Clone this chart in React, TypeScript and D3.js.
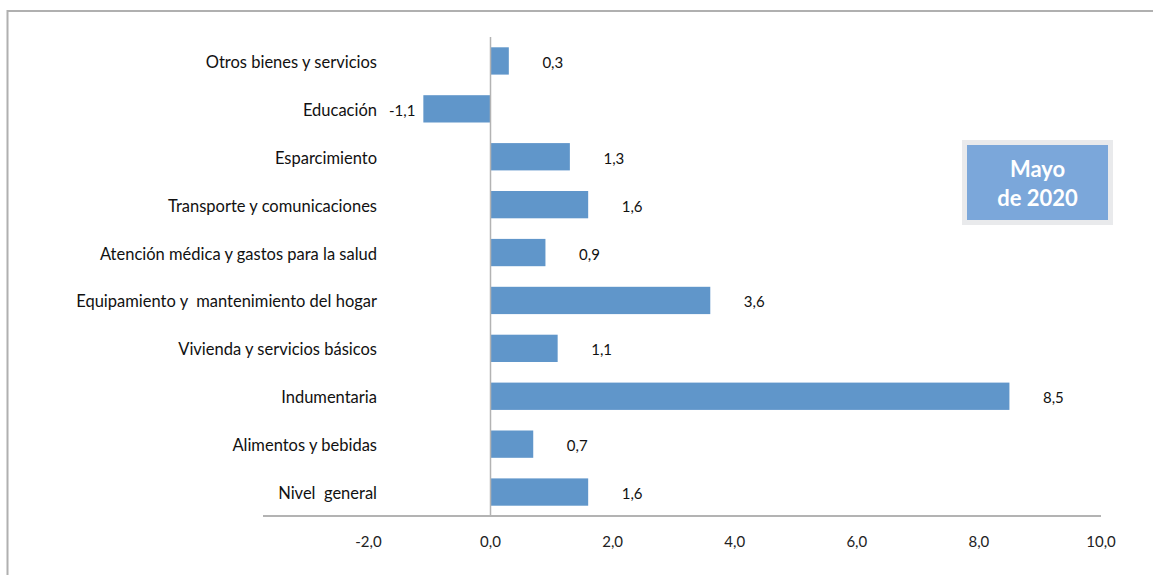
import * as d3 from 'd3'
import { useEffect, useRef } from 'react'

const WIDTH = 1153
const HEIGHT = 575

const categories = [
  'Otros bienes y servicios',
  'Educación',
  'Esparcimiento',
  'Transporte y comunicaciones',
  'Atención médica y gastos para la salud',
  'Equipamiento y  mantenimiento del hogar',
  'Vivienda y servicios básicos',
  'Indumentaria',
  'Alimentos y bebidas',
  'Nivel  general',
]
const values = [0.3, -1.1, 1.3, 1.6, 0.9, 3.6, 1.1, 8.5, 0.7, 1.6]
const xTicks = [-2, 0, 2, 4, 6, 8, 10]
const legendLines = ['Mayo', 'de 2020']

const BAR_COLOR = '#6096ca'
const AXIS_COLOR = '#b3b3b3'
const FONT = 'Lato, "Open Sans", sans-serif'

const fmt = (v: number) => v.toFixed(1).replace('.', ',')

export default function App() {
  const svgRef = useRef<SVGSVGElement>(null)

  useEffect(() => {
    if (!svgRef.current) return
    const svg = d3.select(svgRef.current)
    svg.selectAll('*').remove()

    const plotTop = 37
    const plotBottom = 516
    const axisLeft = 263
    const axisRight = 1101

    const x = d3.scaleLinear().domain([0, 10]).range([490.5, axisRight])
    const y = d3.scaleBand<string>()
      .domain(categories)
      .range([plotTop, plotBottom])
      .paddingInner(0.43)
      .paddingOuter(0.215)

    // frame
    svg.append('rect')
      .attr('x', 7.5).attr('y', 11)
      .attr('width', WIDTH + 20).attr('height', HEIGHT + 20)
      .attr('fill', 'white')
      .attr('stroke', '#b0b0b0')
      .attr('stroke-width', 2)

    // bars
    const rows = categories.map((c, i) => ({ c, v: values[i] }))
    svg.append('g').selectAll('rect')
      .data(rows)
      .enter()
      .append('rect')
      .attr('x', d => x(Math.min(0, d.v)))
      .attr('y', d => y(d.c)!)
      .attr('width', d => Math.abs(x(d.v) - x(0)))
      .attr('height', y.bandwidth())
      .attr('fill', BAR_COLOR)

    // zero line
    svg.append('line')
      .attr('x1', x(0)).attr('x2', x(0))
      .attr('y1', plotTop).attr('y2', plotBottom)
      .attr('stroke', AXIS_COLOR).attr('stroke-width', 1.5)

    // x axis line
    svg.append('line')
      .attr('x1', axisLeft).attr('x2', axisRight)
      .attr('y1', plotBottom).attr('y2', plotBottom)
      .attr('stroke', AXIS_COLOR).attr('stroke-width', 2)

    // tick labels
    svg.append('g').selectAll('text')
      .data(xTicks)
      .enter()
      .append('text')
      .attr('x', d => x(d))
      .attr('y', 541)
      .attr('text-anchor', 'middle')
      .attr('dominant-baseline', 'central')
      .attr('font-family', FONT)
      .attr('font-size', 15)
      .attr('fill', '#222')
      .text(d => fmt(d))

    // category labels
    svg.append('g').selectAll('text')
      .data(categories)
      .enter()
      .append('text')
      .attr('x', 377)
      .attr('y', d => y(d)! + y.bandwidth() / 2 + 1)
      .attr('text-anchor', 'end')
      .attr('dominant-baseline', 'central')
      .attr('font-family', FONT)
      .attr('font-size', 16.5)
      .attr('fill', '#111')
      .style('white-space', 'pre')
      .text(d => d)

    // value labels
    svg.append('g').selectAll('text')
      .data(rows)
      .enter()
      .append('text')
      .attr('x', d => d.v < 0 ? x(d.v) - 8 : x(d.v) + 44)
      .attr('y', d => y(d.c)! + y.bandwidth() / 2 + 1)
      .attr('text-anchor', d => d.v < 0 ? 'end' : 'middle')
      .attr('dominant-baseline', 'central')
      .attr('font-family', FONT)
      .attr('font-size', 15)
      .attr('fill', '#111')
      .text(d => fmt(d.v))

    // legend box
    const lg = svg.append('g').attr('transform', 'translate(962,140)')
    lg.append('rect')
      .attr('width', 151).attr('height', 85)
      .attr('fill', '#e9eaec')
    lg.append('rect')
      .attr('x', 5).attr('y', 5)
      .attr('width', 141).attr('height', 75)
      .attr('fill', '#7ba7da')
    lg.selectAll('text.lg')
      .data(legendLines)
      .enter()
      .append('text')
      .attr('x', 75.5)
      .attr('y', (_, i) => 28 + i * 29)
      .attr('text-anchor', 'middle')
      .attr('dominant-baseline', 'central')
      .attr('font-family', FONT)
      .attr('font-weight', 700)
      .attr('font-size', 22)
      .attr('fill', 'white')
      .text(d => d)
  }, [])

  return (
    <svg
      ref={svgRef}
      width={WIDTH}
      height={HEIGHT}
      style={{ position: 'absolute', left: 0, top: 0, background: 'white' }}
    />
  )
}
